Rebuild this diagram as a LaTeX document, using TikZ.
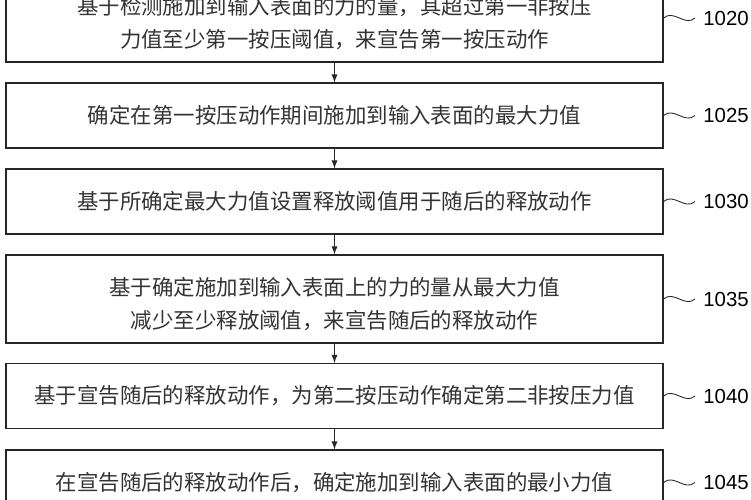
\documentclass[tikz,border=0pt]{standalone}
\usepackage{fontspec}
\setmainfont{Noto Sans CJK SC}
\newfontfamily\numfont{Liberation Sans}
\begin{document}
\begin{tikzpicture}[
	stepbox/.style={draw=black!85,line width=0.7pt,minimum width=13.14cm,align=center,inner sep=0pt,text=black!80,font=\fontsize{12.2}{18.8}\selectfont},
	onebox/.style={stepbox,minimum height=1.3cm},
	twobox/.style={stepbox,minimum height=1.76cm,text height=36pt,text depth=2.4pt},
	reflabel/.style={anchor=west,inner xsep=0.16cm,inner ysep=0pt,font=\numfont\fontsize{11.6}{13}\selectfont},
	wave/.style={line width=0.5pt,black!85},
	flow/.style={-latex,line width=0.6pt,black!85}
	]
	\useasboundingbox (0,0) rectangle (15.02,-10);

	%etapes
	\node [twobox] (s1) at (6.69,-0.36) {基于检测施加到输入表面的力的量，其超过第一非按压\\力值至少第一按压阈值，来宣告第一按压动作};
	\node [onebox] (s2) at (6.69,-2.31) {确定在第一按压动作期间施加到输入表面的最大力值};
	\node [onebox] (s3) at (6.69,-4.03) {基于所确定最大力值设置释放阈值用于随后的释放动作};
	\node [twobox] (s4) at (6.69,-5.98) {基于确定施加到输入表面上的力的量从最大力值\\减少至少释放阈值，来宣告随后的释放动作};
	\node [onebox] (s5) at (6.69,-7.92) {基于宣告随后的释放动作，为第二按压动作确定第二非按压力值};
	\node [onebox] (s6) at (6.69,-9.65) {在宣告随后的释放动作后，确定施加到输入表面的最小力值};

	%fleches
	\draw [flow] (s1) -- (s2);
	\draw [flow] (s2) -- (s3);
	\draw [flow] (s3) -- (s4);
	\draw [flow] (s4) -- (s5);
	\draw [flow] (s5) -- (s6);

	%reperes
	\node [reflabel] (l1) at (13.9,-0.36) {1020};
	\node [reflabel] (l2) at (13.9,-2.31) {1025};
	\node [reflabel] (l3) at (13.9,-4.03) {1030};
	\node [reflabel] (l4) at (13.9,-5.98) {1035};
	\node [reflabel] (l5) at (13.9,-7.92) {1040};
	\node [reflabel] (l6) at (13.9,-9.65) {1045};

	\draw [wave] (s1.east) .. controls +(0.2,0.18) and +(-0.2,-0.18) .. (l1.west);
	\draw [wave] (s2.east) .. controls +(0.2,0.18) and +(-0.2,-0.18) .. (l2.west);
	\draw [wave] (s3.east) .. controls +(0.2,0.18) and +(-0.2,-0.18) .. (l3.west);
	\draw [wave] (s4.east) .. controls +(0.2,0.18) and +(-0.2,-0.18) .. (l4.west);
	\draw [wave] (s5.east) .. controls +(0.2,0.18) and +(-0.2,-0.18) .. (l5.west);
	\draw [wave] (s6.east) .. controls +(0.2,0.18) and +(-0.2,-0.18) .. (l6.west);
\end{tikzpicture}
\end{document}
